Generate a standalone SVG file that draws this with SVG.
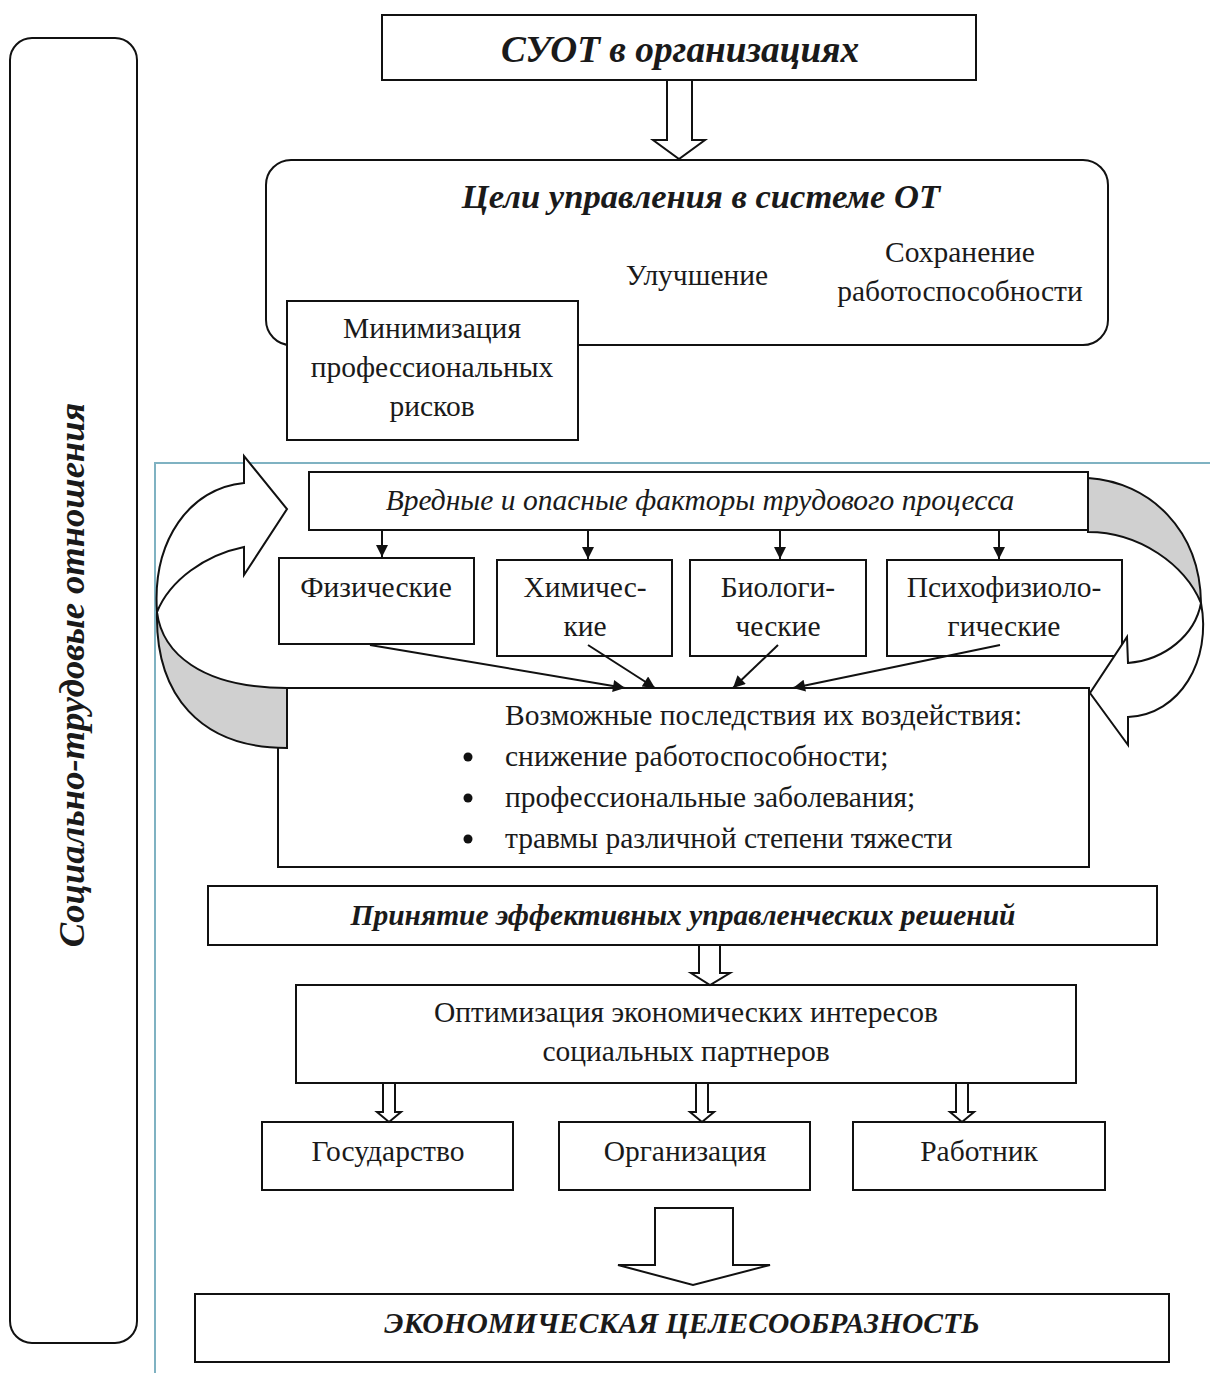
<svg xmlns="http://www.w3.org/2000/svg" width="1210" height="1373" viewBox="0 0 1210 1373">
<defs>
<style>
.box{fill:#fff;stroke:#111;stroke-width:2}
.t{font-family:"Liberation Serif","Times New Roman",serif;font-size:29.5px;fill:#1a1a1a}
.bi{font-weight:bold;font-style:italic}
.it{font-style:italic}
.c{text-anchor:middle}
.ln{stroke:#111;stroke-width:2;fill:none}
.ar{fill:#fff;stroke:#111;stroke-width:2;stroke-linejoin:miter}
.gr{fill:#d0d0d0;stroke:#111;stroke-width:2}
</style>
<marker id="ah2" viewBox="0 0 10 10" refX="10" refY="5" markerWidth="14" markerHeight="12" orient="auto" markerUnits="userSpaceOnUse">
<path d="M0,0 L10,5 L0,10 Z" fill="#111"/>
</marker>
</defs>

<!-- frame -->
<g id="frame">
<path d="M155,1373 L155,463 L1210,463" fill="none" stroke="#7fb2c2" stroke-width="2"/>
</g>

<g id="social">
<rect x="10" y="38" width="127" height="1305" rx="22" class="box" stroke-width="2.5"/>
<text class="t bi c" x="0" y="0" style="font-size:36.5px" transform="translate(84,675) rotate(-90)">Социально-трудовые отношения</text>
</g>

<g id="suot">
<rect x="382" y="15" width="594" height="65" class="box" stroke-width="2.5"/>
<text class="t bi c" x="680" y="62" style="font-size:37.3px">СУОТ в организациях</text>
</g>

<g id="goals">
<rect x="266" y="160" width="842" height="185" rx="25" class="box"/>
<text class="t bi c" x="701" y="208" style="font-size:34.6px">Цели управления в системе ОТ</text>
<text class="t c" x="697" y="285">Улучшение</text>
<text class="t c" x="960" y="262">Сохранение</text>
<text class="t c" x="960" y="301">работоспособности</text>
</g>

<g id="minim">
<rect x="287" y="301" width="291" height="139" class="box"/>
<text class="t c" x="432" y="338">Минимизация</text>
<text class="t c" x="432" y="377">профессиональных</text>
<text class="t c" x="432" y="416">рисков</text>
</g>

<g id="factors">
<rect x="309" y="472" width="779" height="58" class="box" stroke-width="2.5"/>
<text class="t it c" x="700" y="510">Вредные и опасные факторы трудового процесса</text>
</g>

<g id="phys">
<rect x="279" y="558" width="195" height="86" class="box"/>
<text class="t c" x="376" y="597">Физические</text>
</g>
<g id="chem">
<rect x="497" y="560" width="175" height="96" class="box"/>
<text class="t c" x="585" y="597">Химичес-</text>
<text class="t c" x="585" y="636">кие</text>
</g>
<g id="bio">
<rect x="690" y="560" width="176" height="96" class="box"/>
<text class="t c" x="778" y="597">Биологи-</text>
<text class="t c" x="778" y="636">ческие</text>
</g>
<g id="psych">
<rect x="887" y="560" width="235" height="96" class="box"/>
<text class="t c" x="1004" y="597">Психофизиоло-</text>
<text class="t c" x="1004" y="636">гические</text>
</g>

<g id="conseq">
<rect x="278" y="688" width="811" height="179" class="box"/>
<text class="t" x="505" y="725">Возможные последствия их воздействия:</text>
<circle cx="468" cy="757" r="4.5" fill="#111"/>
<text class="t" x="505" y="766">снижение работоспособности;</text>
<circle cx="468" cy="798" r="4.5" fill="#111"/>
<text class="t" x="505" y="807">профессиональные заболевания;</text>
<circle cx="468" cy="839" r="4.5" fill="#111"/>
<text class="t" x="505" y="848">травмы различной степени тяжести</text>
</g>

<g id="decisions">
<rect x="208" y="886" width="949" height="59" class="box" stroke-width="2.5"/>
<text class="t bi c" x="683" y="925">Принятие эффективных управленческих решений</text>
</g>

<g id="optim">
<rect x="296" y="985" width="780" height="98" class="box" stroke-width="2.5"/>
<text class="t c" x="686" y="1022">Оптимизация экономических интересов</text>
<text class="t c" x="686" y="1061">социальных партнеров</text>
</g>

<g id="state">
<rect x="262" y="1122" width="251" height="68" class="box"/>
<text class="t c" x="388" y="1161">Государство</text>
</g>
<g id="org">
<rect x="559" y="1122" width="251" height="68" class="box"/>
<text class="t c" x="685" y="1161">Организация</text>
</g>
<g id="worker">
<rect x="853" y="1122" width="252" height="68" class="box"/>
<text class="t c" x="979" y="1161">Работник</text>
</g>

<g id="econ">
<rect x="195" y="1294" width="974" height="68" class="box" stroke-width="2.5"/>
<text class="t bi c" x="682" y="1333">ЭКОНОМИЧЕСКАЯ ЦЕЛЕСООБРАЗНОСТЬ</text>
</g>

<g id="connectors">
<!-- block arrows -->
<path class="ar" d="M667,81 L667,140 L653,140 L679,159 L705,140 L692,140 L692,81"/>
<path class="ar" d="M699,946 L699,973 L691,973 L710,985 L730,973 L720,973 L720,946"/>
<path class="ar" d="M383,1084 L383,1112 L377,1112 L389,1122 L401,1112 L395,1112 L395,1084"/>
<path class="ar" d="M696,1084 L696,1112 L690,1112 L702,1122 L714,1112 L708,1112 L708,1084"/>
<path class="ar" d="M956,1084 L956,1112 L950,1112 L962,1122 L974,1112 L968,1112 L968,1084"/>
<path class="ar" d="M655,1265 L655,1208 L733,1208 L733,1265 L770,1265 L693,1285 L618,1265 Z"/>
<!-- small arrows -->
<line class="ln" x1="382" y1="531" x2="382" y2="557" marker-end="url(#ah2)"/>
<line class="ln" x1="588" y1="531" x2="588" y2="559" marker-end="url(#ah2)"/>
<line class="ln" x1="780" y1="531" x2="780" y2="559" marker-end="url(#ah2)"/>
<line class="ln" x1="999" y1="531" x2="999" y2="559" marker-end="url(#ah2)"/>
<!-- slanted arrows -->
<line class="ln" x1="370" y1="645" x2="625" y2="688" marker-end="url(#ah2)"/>
<line class="ln" x1="588" y1="645" x2="655" y2="688" marker-end="url(#ah2)"/>
<line class="ln" x1="778" y1="645" x2="733" y2="688" marker-end="url(#ah2)"/>
<line class="ln" x1="1000" y1="645" x2="793" y2="688" marker-end="url(#ah2)"/>
<!-- left curved arrow -->
<path class="gr" d="M157,612 C162,652 200,688 287,688 L287,748 C200,748 155,695 157,612 Z"/>
<path class="ar" d="M157,612 C152,540 190,488 244,483 L244,456 L287,509 L244,575 L244,547 C205,555 170,580 157,612 Z"/>
<!-- right curved arrow -->
<path class="gr" d="M1088,478 C1150,482 1200,530 1201,603 C1185,565 1140,532 1088,532 Z"/>
<path class="ar" d="M1201,603 C1212,660 1180,715 1128,717 L1128,745 L1090,693 L1127,637 L1128,663 C1165,660 1195,635 1201,603 Z"/>
</g>
</svg>
